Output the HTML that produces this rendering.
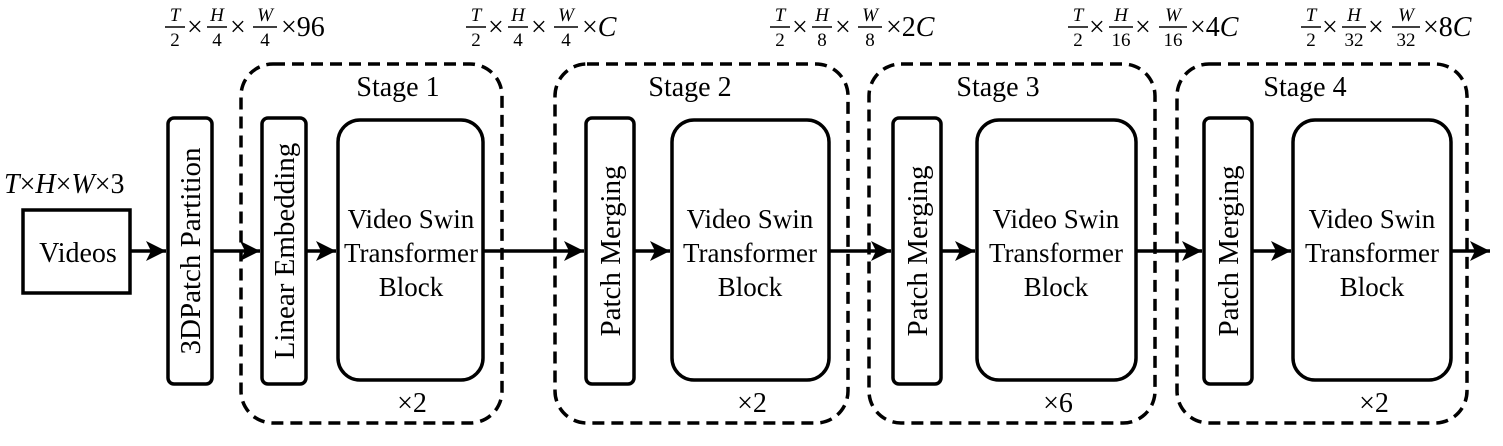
<!DOCTYPE html>
<html><head><meta charset="utf-8"><style>
html,body{margin:0;padding:0;background:#fff;}
svg{display:block}
text{font-family:"Liberation Serif",serif;fill:#000}
.big{font-size:27px}
.rot{font-size:29px}
.lab{font-size:28px}
.it{font-style:italic}
.fr{font-size:19px}
.tm{font-size:28px}
</style></head><body>
<svg width="1503" height="446" viewBox="0 0 1503 446" xmlns="http://www.w3.org/2000/svg">
<defs>
<marker id="b" viewBox="0 0 20 20" markerWidth="20" markerHeight="20" refX="20" refY="10" orient="auto" markerUnits="userSpaceOnUse">
<path d="M0,0 L20,10 L0,20 L5,10 z" fill="#000"/>
</marker>
</defs>
<g fill="none" stroke="#000" stroke-width="3.5" stroke-dasharray="12,7">
<rect x="241" y="64" width="261" height="359" rx="32"/>
<rect x="555" y="64" width="293" height="359" rx="32"/>
<rect x="869" y="64" width="286" height="359" rx="32"/>
<rect x="1177" y="64" width="290" height="359" rx="32"/>
</g>
<g fill="#fff" stroke="#000" stroke-width="3.5">
<rect x="23" y="210" width="107" height="83"/>
<rect x="168" y="118" width="44" height="266" rx="6"/>
<rect x="262" y="118" width="44" height="266" rx="6"/>
<rect x="338" y="120" width="145" height="260" rx="22"/>
<rect x="586" y="118" width="48" height="266" rx="6"/>
<rect x="672" y="120" width="157" height="260" rx="22"/>
<rect x="893" y="118" width="48" height="266" rx="6"/>
<rect x="977" y="120" width="159" height="260" rx="22"/>
<rect x="1204" y="118" width="48" height="266" rx="6"/>
<rect x="1293" y="120" width="158" height="260" rx="22"/>
</g>
<g stroke="#000" stroke-width="3.5" marker-end="url(#b)">
<line x1="130" y1="251" x2="166" y2="251"/>
<line x1="212" y1="251" x2="260" y2="251"/>
<line x1="306" y1="251" x2="336" y2="251"/>
<line x1="483" y1="251" x2="584" y2="251"/>
<line x1="634" y1="251" x2="670" y2="251"/>
<line x1="829" y1="251" x2="891" y2="251"/>
<line x1="941" y1="251" x2="975" y2="251"/>
<line x1="1136" y1="251" x2="1202" y2="251"/>
<line x1="1252" y1="251" x2="1291" y2="251"/>
<line x1="1451" y1="251" x2="1490" y2="251"/>
</g>
<text class="lab" x="78" y="262" text-anchor="middle">Videos</text>
<text class="lab" x="4" y="193"><tspan class="it">T</tspan>×<tspan class="it">H</tspan>×<tspan class="it">W</tspan>×3</text>
<text class="rot" transform="translate(200,251) rotate(-90)" text-anchor="middle">3DPatch Partition</text>
<text class="rot" transform="translate(294,251) rotate(-90)" text-anchor="middle">Linear Embedding</text>
<text class="rot" transform="translate(620,251) rotate(-90)" text-anchor="middle">Patch Merging</text>
<text class="rot" transform="translate(927,251) rotate(-90)" text-anchor="middle">Patch Merging</text>
<text class="rot" transform="translate(1238,251) rotate(-90)" text-anchor="middle">Patch Merging</text>
<g class="big" text-anchor="middle">
<text x="411" y="228">Video Swin</text><text x="411" y="262">Transformer</text><text x="411" y="296">Block</text>
<text x="750" y="228">Video Swin</text><text x="750" y="262">Transformer</text><text x="750" y="296">Block</text>
<text x="1056" y="228">Video Swin</text><text x="1056" y="262">Transformer</text><text x="1056" y="296">Block</text>
<text x="1372" y="228">Video Swin</text><text x="1372" y="262">Transformer</text><text x="1372" y="296">Block</text>
</g>
<g class="lab" text-anchor="middle">
<text x="398" y="96">Stage 1</text><text x="690" y="96">Stage 2</text><text x="998" y="96">Stage 3</text><text x="1305" y="96">Stage 4</text>
<text x="412" y="412">×2</text><text x="752" y="412">×2</text><text x="1058" y="412">×6</text><text x="1374" y="412">×2</text>
</g>
<g stroke="#000" stroke-width="1.4">
<line x1="165" y1="27" x2="185" y2="27"/><line x1="207" y1="27" x2="227" y2="27"/><line x1="253" y1="27" x2="277" y2="27"/>
<line x1="466" y1="27" x2="486" y2="27"/><line x1="508" y1="27" x2="528" y2="27"/><line x1="554" y1="27" x2="578" y2="27"/>
<line x1="770" y1="27" x2="790" y2="27"/><line x1="812" y1="27" x2="832" y2="27"/><line x1="858" y1="27" x2="882" y2="27"/>
<line x1="1068" y1="27" x2="1088" y2="27"/><line x1="1109" y1="27" x2="1133" y2="27"/><line x1="1159" y1="27" x2="1187" y2="27"/>
<line x1="1301" y1="27" x2="1321" y2="27"/><line x1="1342" y1="27" x2="1366" y2="27"/><line x1="1392" y1="27" x2="1420" y2="27"/>
</g>
<g text-anchor="middle">
<text class="fr it" x="175" y="21">T</text><text class="fr" x="175" y="46">2</text>
<text class="fr it" x="217" y="21">H</text><text class="fr" x="217" y="46">4</text>
<text class="fr it" x="265" y="21">W</text><text class="fr" x="265" y="46">4</text>
<text class="fr it" x="476" y="21">T</text><text class="fr" x="476" y="46">2</text>
<text class="fr it" x="518" y="21">H</text><text class="fr" x="518" y="46">4</text>
<text class="fr it" x="566" y="21">W</text><text class="fr" x="566" y="46">4</text>
<text class="fr it" x="780" y="21">T</text><text class="fr" x="780" y="46">2</text>
<text class="fr it" x="822" y="21">H</text><text class="fr" x="822" y="46">8</text>
<text class="fr it" x="870" y="21">W</text><text class="fr" x="870" y="46">8</text>
<text class="fr it" x="1078" y="21">T</text><text class="fr" x="1078" y="46">2</text>
<text class="fr it" x="1121" y="21">H</text><text class="fr" x="1121" y="46">16</text>
<text class="fr it" x="1173" y="21">W</text><text class="fr" x="1173" y="46">16</text>
<text class="fr it" x="1311" y="21">T</text><text class="fr" x="1311" y="46">2</text>
<text class="fr it" x="1354" y="21">H</text><text class="fr" x="1354" y="46">32</text>
<text class="fr it" x="1406" y="21">W</text><text class="fr" x="1406" y="46">32</text>
</g>
<g class="tm">
<text x="187" y="36">×</text><text x="230" y="36">×</text><text x="281" y="36">×96</text>
<text x="488" y="36">×</text><text x="531" y="36">×</text><text x="582" y="36">×<tspan class="it">C</tspan></text>
<text x="792" y="36">×</text><text x="835" y="36">×</text><text x="886" y="36">×2<tspan class="it">C</tspan></text>
<text x="1089" y="36">×</text><text x="1135" y="36">×</text><text x="1190" y="36">×4<tspan class="it">C</tspan></text>
<text x="1322" y="36">×</text><text x="1368" y="36">×</text><text x="1423" y="36">×8<tspan class="it">C</tspan></text>
</g>
</svg>
</body></html>
